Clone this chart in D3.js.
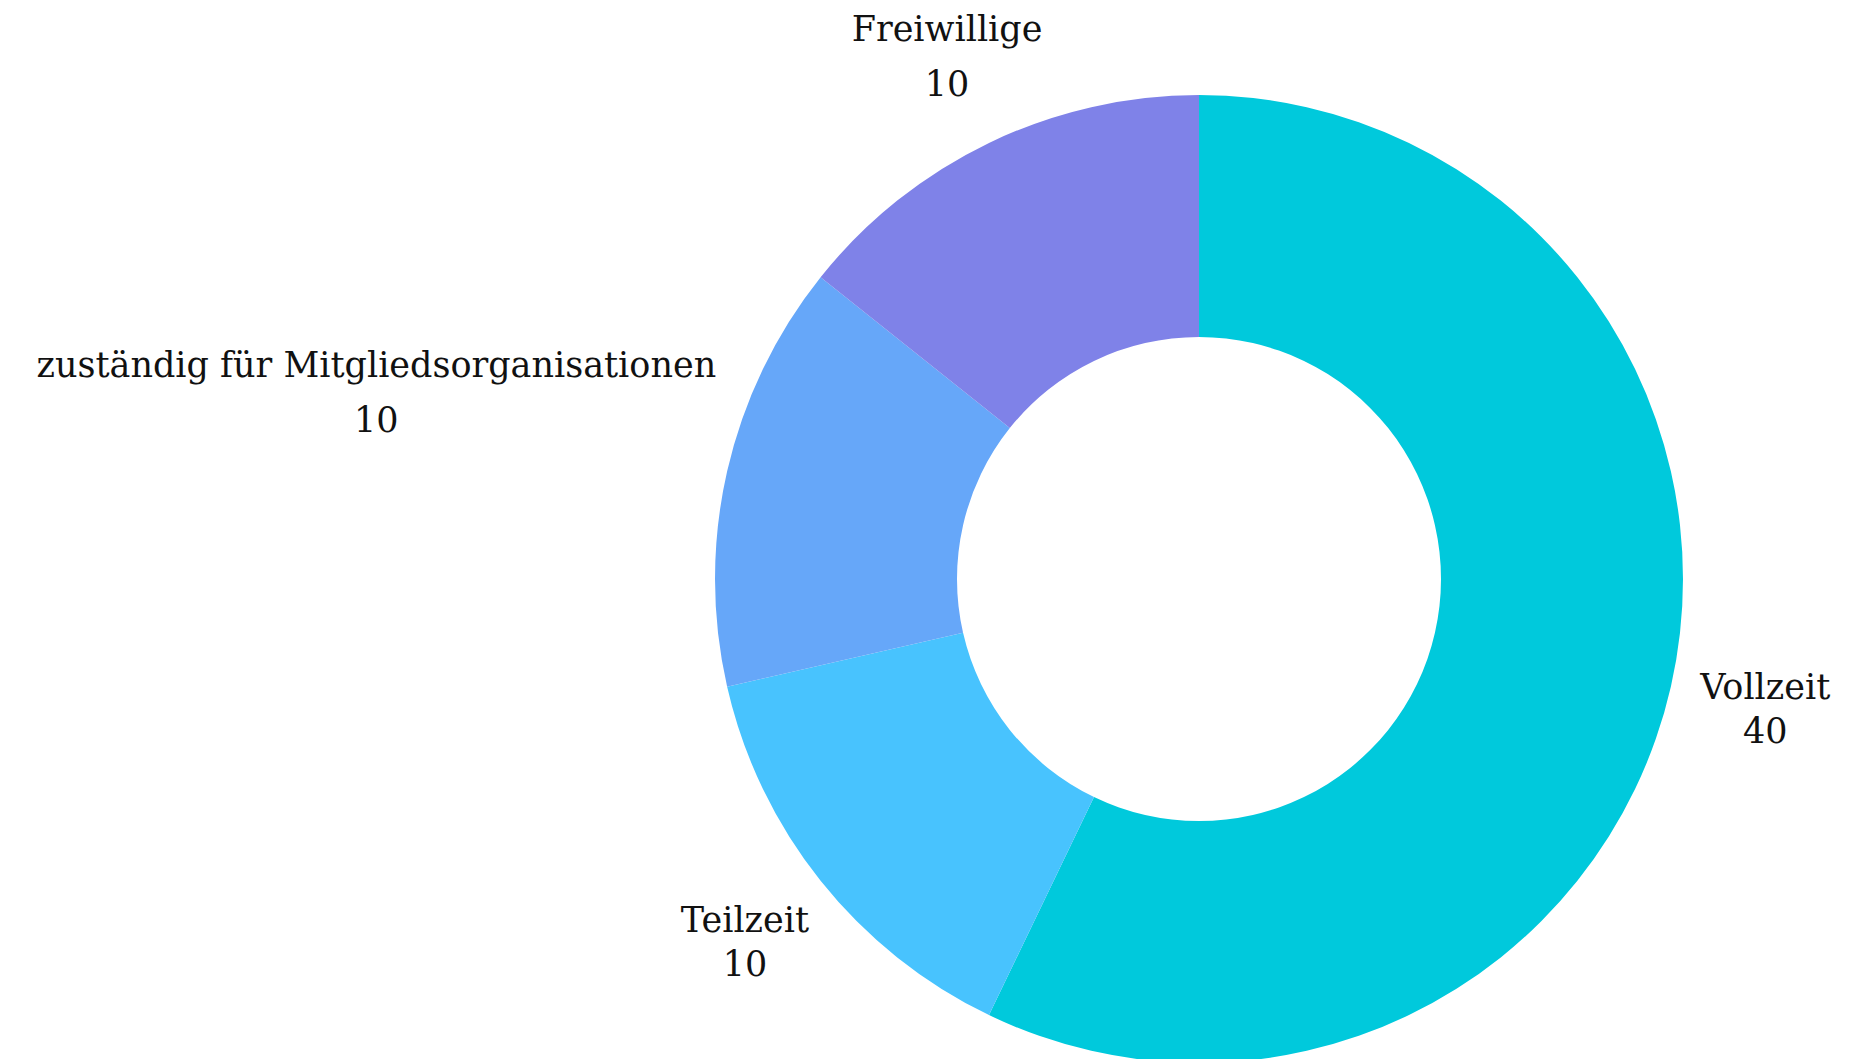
<!DOCTYPE html>
<html>
<head>
<meta charset="utf-8">
<script src="https://cdn.jsdelivr.net/npm/d3@7"></script>
<style>
  html, body { margin: 0; padding: 0; background: #fff; overflow: hidden; }
  text { font-family: "DejaVu Serif", serif; fill: #111; }
</style>
</head>
<body>
<div id="chart"></div>
<script>
(function() {

  var width = 1875, height = 1059;

  // data
  var categories = ["Vollzeit", "Teilzeit", "zuständig für Mitgliedsorganisationen", "Freiwillige"];
  var values = [40, 10, 10, 10];
  var colors = ["#00c9dc", "#48c3fe", "#66a7f9", "#7f82e8"];

  var cx = 1199, cy = 579, outer = 484, inner = 242;
  var fontSize = 35, capH = 26;

  var svg = d3.select("#chart").append("svg")
    .attr("width", width)
    .attr("height", height);

  var g = svg.append("g").attr("transform", "translate(" + cx + "," + cy + ")");

  var pie = d3.pie().sort(null).value(function(d) { return d.value; });
  var arc = d3.arc().innerRadius(inner).outerRadius(outer);

  var data = categories.map(function(c, i) { return { name: c, value: values[i], color: colors[i] }; });
  var arcs = pie(data);

  g.selectAll("path.slice")
    .data(arcs)
    .enter().append("path")
    .attr("class", "slice")
    .attr("d", arc)
    .attr("fill", function(d) { return d.data.color; });

  //labels: start at 1.2 * outer on the mid angle, push out until box clears the ring
  var labels = g.selectAll("g.label")
    .data(arcs)
    .enter().append("g")
    .attr("class", "label");

  labels.each(function(d) {
    var el = d3.select(this);
    var a = (d.startAngle + d.endAngle) / 2;
    var sx = Math.sin(a), sy = -Math.cos(a);
    var gap = sy < 0 ? 55 : 44;

    var t1 = el.append("text").attr("text-anchor", "middle").style("font-size", fontSize + "px").text(d.data.name);
    var t2 = el.append("text").attr("text-anchor", "middle").style("font-size", fontSize + "px").text(d.data.value);
    var w = Math.max(t1.node().getComputedTextLength(), t2.node().getComputedTextLength());
    var h = gap + capH;

    var r = outer * 1.2, x, y;
    for (var k = 0; k < 2000; k++) {
      x = sx * r; y = sy * r;
      var nx = Math.max(x - w / 2, Math.min(0, x + w / 2));
      var ny = Math.max(y - h / 2, Math.min(0, y + h / 2));
      if (Math.sqrt(nx * nx + ny * ny) > outer + 20) break;
      r += 1;
    }
    t1.attr("x", x).attr("y", y - h / 2 + capH);
    t2.attr("x", x).attr("y", y - h / 2 + capH + gap);
  });

})();
</script>
</body>
</html>
